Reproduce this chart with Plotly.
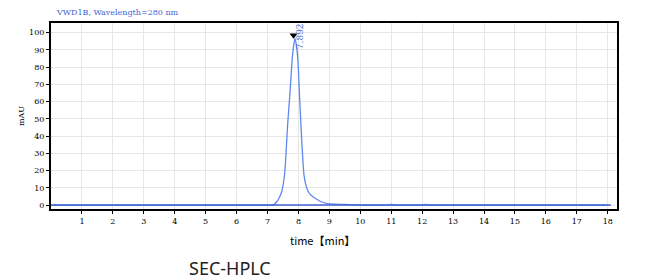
import plotly.graph_objects as go

# chromatogram data (time in min, absorbance in mAU)
time_min = [0.0, 1.0, 2.0, 3.0, 4.0, 5.0, 6.0, 7.0, 7.14, 7.22, 7.30, 7.38, 7.46, 7.55, 7.59, 7.65,
            7.73, 7.80, 7.85, 7.89, 7.93, 7.98, 8.03, 8.08, 8.14, 8.18, 8.25, 8.32, 8.42, 8.54,
            8.70, 8.91, 9.2, 9.5, 9.8, 10.0, 10.5, 10.9, 11.0, 11.1, 11.5, 12.0, 12.1, 12.2,
            12.6, 13.0, 14.0, 15.0, 16.0, 17.0, 18.0]
mau = [0.0, 0.0, 0.0, 0.0, 0.0, 0.0, 0.0, 0.0, 0.0, 0.4, 1.9, 4.2, 7.7, 17.4, 27.1, 46.4,
       65.8, 85.0, 93.0, 96.7, 93.0, 85.0, 65.8, 46.4, 27.1, 17.4, 11.0, 7.7, 5.5, 3.9,
       2.2, 1.0, 0.5, 0.3, 0.1, 0.0, 0.0, 0.0, 0.4, 0.0, 0.0, 0.0, 0.4, 0.0,
       0.0, 0.0, 0.0, 0.0, 0.0, 0.0, 0.0]

peak_time = [7.892]
peak_mau = [96.7]
peak_label = ["7.892"]

x_ticks = list(range(1, 19))
y_ticks = list(range(0, 101, 10))

fig = go.Figure()
fig.add_trace(go.Scatter(x=time_min, y=mau, mode="lines",
                         line=dict(color="#5f88ee", width=1.3, shape="spline", smoothing=0.6),
                         hoverinfo="skip", showlegend=False))
fig.add_trace(go.Scatter(x=[0, 18.1], y=[0, 0], mode="lines",
                         line=dict(color="#3f63d0", width=1.6),
                         hoverinfo="skip", showlegend=False))
fig.add_trace(go.Scatter(x=[peak_time[0] - 0.05], y=[peak_mau[0] + 1.8], mode="markers",
                         marker=dict(symbol="triangle-down", size=7, color="black"),
                         hoverinfo="skip", showlegend=False))

fig.add_annotation(x=peak_time[0] + 0.14, y=peak_mau[0] + 1.5, xref="x", yref="y",
                   xanchor="center", yanchor="middle",
                   text=peak_label[0], textangle=-90, showarrow=False,
                   font=dict(family="DejaVu Serif", size=9, color="#4a6fd8"))

fig.add_annotation(x=0.005, y=1.055, xref="paper", yref="paper", xanchor="left", yanchor="middle",
                   text="VWD1B, Wavelength=280 nm", showarrow=False,
                   font=dict(family="DejaVu Serif", size=8, color="#3f63d0"))
fig.add_annotation(x=-0.053, y=0.5, xref="paper", yref="paper", textangle=-90,
                   xanchor="center", yanchor="middle",
                   text="mAU", showarrow=False,
                   font=dict(family="DejaVu Serif", size=8, color="black"))
fig.add_annotation(x=0.479, y=-0.168, xref="paper", yref="paper",
                   xanchor="center", yanchor="middle",
                   text="time【min】", showarrow=False,
                   font=dict(family="Noto Sans CJK JP", size=11, color="black"))
fig.add_annotation(x=0.316, y=-0.318, xref="paper", yref="paper",
                   xanchor="center", yanchor="middle",
                   text="SEC-HPLC", showarrow=False,
                   font=dict(family="Noto Sans", size=18, color="#222222"))

fig.update_layout(
    width=650, height=280,
    margin=dict(l=51, r=33, t=23, b=71),
    paper_bgcolor="white", plot_bgcolor="white",
    xaxis=dict(range=[0, 18.3], tickvals=x_ticks, ticktext=[str(t) for t in x_ticks],
               showgrid=True, gridcolor="#e6e6e6", gridwidth=1,
               showline=True, linecolor="black", linewidth=2, mirror=True,
               ticks="outside", ticklen=3, tickcolor="black",
               tickfont=dict(family="DejaVu Serif", size=8, color="black"),
               zeroline=False, fixedrange=True),
    yaxis=dict(range=[-2.3, 105.6], tickvals=y_ticks,
               showgrid=True, gridcolor="#e6e6e6", gridwidth=1,
               showline=True, linecolor="black", linewidth=2, mirror=True,
               ticks="outside", ticklen=3, tickcolor="black",
               tickfont=dict(family="DejaVu Serif", size=8, color="black"),
               zeroline=False, fixedrange=True),
)

fig.write_html("out.html")
